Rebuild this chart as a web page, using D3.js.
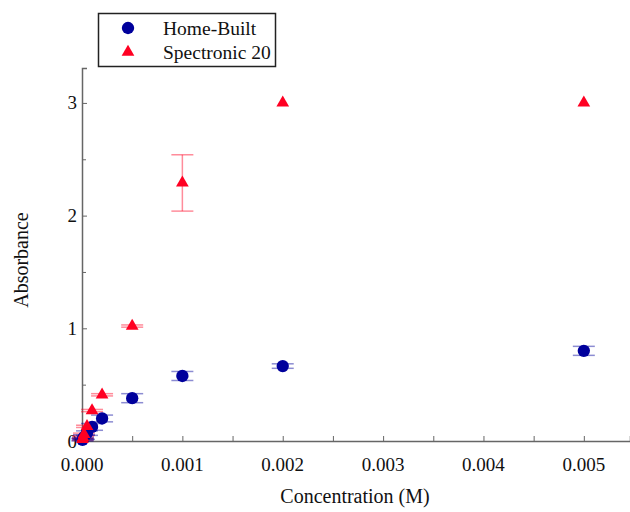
<!DOCTYPE html>
<html>
<head>
<meta charset="utf-8">
<script src="https://cdn.jsdelivr.net/npm/d3@7"></script>
<style>
  body { margin: 0; background: #fff; }
  text { font-family: "Liberation Serif", "Times New Roman", serif; fill: #111; }
</style>
</head>
<body>
<svg width="630" height="512"></svg>
<script>
const concentrations = [0.000005, 0.00001, 0.00002, 0.00005, 0.0001, 0.0002, 0.0005, 0.001, 0.002, 0.005];
const homeBuilt = [0.01, 0.02, 0.035, 0.07, 0.125, 0.2, 0.38, 0.577, 0.665, 0.8];
const homeBuiltErr = [0.01, 0.01, 0.02, 0.02, 0.03, 0.03, 0.04, 0.04, 0.02, 0.04];
const spectronic = [0.015, 0.03, 0.06, 0.13, 0.27, 0.41, 1.02, 2.29, 3.0, 3.0];
const spectronicErr = [0.01, 0.01, 0.01, 0.01, 0.01, 0.01, 0.01, 0.25, 0, 0];
const xTicks = [0, 0.001, 0.002, 0.003, 0.004, 0.005];
const yTicks = [0, 1, 2, 3];

const svg = d3.select("svg");
const x = d3.scaleLinear().domain([0, 0.00546]).range([82, 630]);
const y = d3.scaleLinear().domain([0, 3.31]).range([441, 68]);
const axisColor = "#666";

// axes
const xAxis = svg.append("g")
    .attr("transform", `translate(0,${y(0)})`)
    .call(d3.axisTop(x).tickValues(d3.range(0, 0.0055, 0.0005)).tickSize(5).tickFormat(""));
const yAxis = svg.append("g")
    .attr("transform", `translate(${x(0)},0)`)
    .call(d3.axisRight(y).tickValues(d3.range(0, 3.5, 0.5)).tickSize(5).tickFormat(""));
[xAxis, yAxis].forEach(a => {
    a.select(".domain").attr("stroke", axisColor).attr("stroke-width", 1.5);
    a.selectAll(".tick line").attr("stroke", axisColor);
});
yAxis.selectAll(".tick line").attr("x2", d => Number.isInteger(d) ? 5 : 4);

svg.append("g").selectAll("text")
    .data(xTicks)
    .enter()
    .append("text")
    .attr("x", d => x(d))
    .attr("y", 471)
    .attr("text-anchor", "middle")
    .attr("font-size", 19)
    .text(d3.format(".3f"));

svg.append("g").selectAll("text")
    .data(yTicks)
    .enter()
    .append("text")
    .attr("x", 77)
    .attr("y", d => y(d) + 6.5)
    .attr("text-anchor", "end")
    .attr("font-size", 19)
    .text(d => d);

svg.append("text")
    .attr("x", 355)
    .attr("y", 503)
    .attr("text-anchor", "middle")
    .attr("font-size", 20)
    .text("Concentration (M)");

svg.append("text")
    .attr("transform", "translate(28,260) rotate(-90)")
    .attr("text-anchor", "middle")
    .attr("font-size", 20)
    .text("Absorbance");

const blue = "#00009c";
const red = "#ff0022";

// error bars
function errorBars(vals, errs, color) {
    const g = svg.append("g")
        .attr("stroke", color)
        .attr("stroke-opacity", 0.45)
        .attr("stroke-width", 1.5);
    concentrations.forEach((c, i) => {
        if (!errs[i]) return;
        const cx = x(c), y1 = y(vals[i] - errs[i]), y2 = y(vals[i] + errs[i]);
        g.append("line").attr("x1", cx).attr("x2", cx).attr("y1", y1).attr("y2", y2);
        g.append("line").attr("x1", cx - 11).attr("x2", cx + 11).attr("y1", y1).attr("y2", y1);
        g.append("line").attr("x1", cx - 11).attr("x2", cx + 11).attr("y1", y2).attr("y2", y2);
    });
}
errorBars(spectronic, spectronicErr, red);
errorBars(homeBuilt, homeBuiltErr, blue);

const circle = d3.symbol().type(d3.symbolCircle).size(120);
const triangle = d3.symbol().type(d3.symbolTriangle).size(70);

svg.append("g").selectAll("path")
    .data(concentrations)
    .enter()
    .append("path")
    .attr("d", circle)
    .attr("transform", (d, i) => `translate(${x(d)},${y(homeBuilt[i])})`)
    .attr("fill", blue);

svg.append("g").selectAll("path")
    .data(concentrations)
    .enter()
    .append("path")
    .attr("d", triangle)
    .attr("transform", (d, i) => `translate(${x(d)},${y(spectronic[i])})`)
    .attr("fill", red);

// legend
const legend = svg.append("g");
legend.append("rect")
    .attr("x", 98.5).attr("y", 13.5)
    .attr("width", 177).attr("height", 53)
    .attr("fill", "#fff").attr("stroke", "#222").attr("stroke-width", 1.5);
legend.append("path").attr("d", circle).attr("transform", "translate(128,28)").attr("fill", blue);
legend.append("path").attr("d", triangle).attr("transform", "translate(128,52)").attr("fill", red);
legend.append("text").attr("x", 163).attr("y", 35).attr("font-size", 19.5).text("Home-Built");
legend.append("text").attr("x", 163).attr("y", 59).attr("font-size", 19.5).text("Spectronic 20");
</script>
</body>
</html>
